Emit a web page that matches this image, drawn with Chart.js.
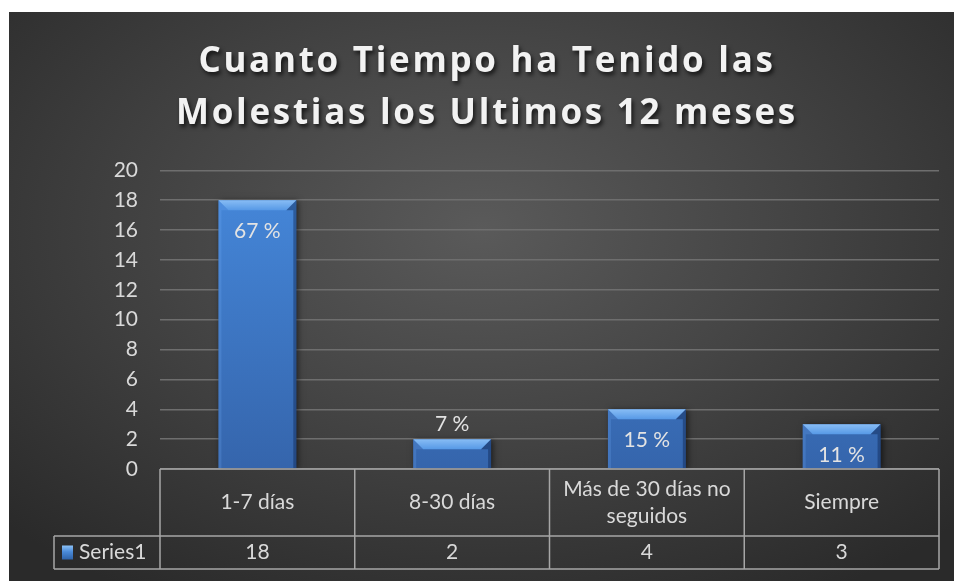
<!DOCTYPE html>
<html>
<head>
<meta charset="utf-8">
<script src="https://cdn.jsdelivr.net/npm/chart.js@4.4.1/dist/chart.umd.min.js"></script>
<style>
html, body { margin: 0; padding: 0; background: #fff; }
#wrap {
  position: absolute; left: 9px; top: 12px; width: 945px; height: 569px;
  background: radial-gradient(ellipse 70% 75% at 50% 38%, #5a5a5a 0%, #454545 45%, #2a2a2a 100%);
}
</style>
</head>
<body>
<div id="wrap"><canvas id="chart"></canvas></div>
<script>
const titleLines = ['Cuanto Tiempo ha Tenido las', 'Molestias los Ultimos 12 meses'];
const categories = ['1-7 días', '8-30 días', ['Más de 30 días no', 'seguidos'], 'Siempre'];
const series1 = [18, 2, 4, 3];
const percentLabels = ['67 %', '7 %', '15 %', '11 %'];
const seriesName = 'Series1';
const yMax = 20;
const yStep = 2;

const textColor = '#d9d9d9';
const lineColor = '#a6a6a6';
const smallFont = '21px Lato';

// bevel look on the bars + shadow
const bevelPlugin = {
  id: 'bevel',
  beforeDatasetsDraw(chart) {
    const ctx = chart.ctx;
    ctx.save();
    ctx.shadowColor = 'rgba(0,0,0,0.55)';
    ctx.shadowBlur = 6;
    ctx.shadowOffsetX = 2;
    ctx.shadowOffsetY = 1;
  },
  afterDatasetsDraw(chart) {
    const ctx = chart.ctx;
    ctx.restore();
    chart.getDatasetMeta(0).data.forEach((bar, i) => {
      const { x, y, base, width } = bar.getProps(['x', 'y', 'base', 'width'], true);
      const l = x - width / 2, r = x + width / 2, h = base - y;
      const b = Math.min(10, h / 2), s = 3;

      ctx.save();
      // top bevel
      ctx.beginPath();
      ctx.moveTo(l, y); ctx.lineTo(r, y); ctx.lineTo(r - b, y + b); ctx.lineTo(l + b, y + b);
      ctx.closePath();
      const g = ctx.createLinearGradient(0, y, 0, y + b);
      g.addColorStop(0, '#88bdf5');
      g.addColorStop(1, '#5799e6');
      ctx.fillStyle = g;
      ctx.fill();
      // left side
      ctx.beginPath();
      ctx.moveTo(l, y); ctx.lineTo(l + b, y + b); ctx.lineTo(l + s, y + b); ctx.lineTo(l + s, base); ctx.lineTo(l, base);
      ctx.closePath();
      ctx.fillStyle = 'rgba(120,180,255,0.2)';
      ctx.fill();
      // right side
      ctx.beginPath();
      ctx.moveTo(r, y); ctx.lineTo(r - b, y + b); ctx.lineTo(r - s, y + b); ctx.lineTo(r - s, base); ctx.lineTo(r, base);
      ctx.closePath();
      ctx.fillStyle = 'rgba(10,30,70,0.4)';
      ctx.fill();

      // data label
      ctx.font = smallFont;
      ctx.fillStyle = '#e3e3e3';
      ctx.textAlign = 'center';
      ctx.textBaseline = 'middle';
      const cy = h >= 40 ? y + 31 : y - 15;
      ctx.fillText(percentLabels[i], x, cy);
      ctx.restore();
    });
  }
};

// data table under the plot
const tablePlugin = {
  id: 'dataTable',
  afterDraw(chart) {
    const ctx = chart.ctx;
    const xs = chart.scales.x;
    const area = chart.chartArea;
    const n = categories.length;
    const colW = (area.right - area.left) / n;
    const top = area.bottom, mid = top + 67, bot = top + 100;
    const legendLeft = 45;

    ctx.save();
    ctx.strokeStyle = lineColor;
    ctx.lineWidth = 1.5;
    ctx.beginPath();
    ctx.moveTo(area.left, top); ctx.lineTo(area.right, top);
    ctx.moveTo(legendLeft, mid); ctx.lineTo(area.right, mid);
    ctx.moveTo(legendLeft, bot); ctx.lineTo(area.right, bot);
    ctx.moveTo(legendLeft, mid); ctx.lineTo(legendLeft, bot);
    for (let i = 0; i <= n; i++) {
      const vx = area.left + i * colW;
      ctx.moveTo(vx, top); ctx.lineTo(vx, bot);
    }
    ctx.stroke();

    ctx.font = smallFont;
    ctx.fillStyle = textColor;
    ctx.textAlign = 'center';
    ctx.textBaseline = 'middle';
    categories.forEach((c, i) => {
      const cx = xs.getPixelForValue(i);
      const lines = Array.isArray(c) ? c : [c];
      const lh = 27;
      const y0 = (top + mid) / 2 - (lines.length - 1) * lh / 2;
      lines.forEach((t, k) => ctx.fillText(t, cx, y0 + k * lh));
      ctx.fillText(String(series1[i]), cx, (mid + bot) / 2);
    });

    // legend key + series name
    const ky = (mid + bot) / 2 - 7;
    const kg = ctx.createLinearGradient(0, ky, 0, ky + 14);
    kg.addColorStop(0, '#8cc2f7');
    kg.addColorStop(0.45, '#4a8ad8');
    kg.addColorStop(1, '#2f63a8');
    ctx.fillStyle = kg;
    ctx.fillRect(53, ky, 11, 14);
    ctx.fillStyle = textColor;
    ctx.textAlign = 'left';
    ctx.fillText(seriesName, 70, (mid + bot) / 2);
    ctx.restore();
  }
};

const canvas = document.getElementById('chart');
new Chart(canvas, {
  type: 'bar',
  data: {
    labels: categories,
    datasets: [{
      label: seriesName,
      data: series1,
      backgroundColor(c) {
        const area = c.chart.chartArea;
        if (!area) return '#3d7ccc';
        const g = c.chart.ctx.createLinearGradient(0, area.top, 0, area.bottom);
        g.addColorStop(0, '#4689dc');
        g.addColorStop(1, '#3565ac');
        return g;
      },
      categoryPercentage: 1,
      barPercentage: 0.4
    }]
  },
  options: {
    responsive: true,
    maintainAspectRatio: false,
    animation: false,
    devicePixelRatio: 1,
    layout: { padding: { left: 0, right: 15, top: 0, bottom: 112 } },
    plugins: {
      legend: { display: false },
      tooltip: { enabled: false },
      title: {
        display: true,
        text: titleLines,
        color: '#f2f2f2',
        font: { family: 'Open Sans', weight: 'bold', size: 35, lineHeight: 1.49 },
        padding: { top: 24, bottom: 30 }
      }
    },
    scales: {
      x: { display: false },
      y: {
        min: 0,
        max: yMax,
        afterFit(s) { s.width = 151; },
        border: { display: false },
        grid: { color: '#6e6e6e', lineWidth: 1.5, drawTicks: false },
        ticks: {
          stepSize: yStep,
          color: textColor,
          padding: 22,
          font: { family: 'Lato', size: 21 }
        }
      }
    }
  },
  plugins: [bevelPlugin, tablePlugin, {
    id: 'titleShadow',
    afterLayout(chart) {
      const t = chart.titleBlock;
      if (t && !t._shadowWrapped) {
        const draw = t.draw.bind(t);
        t.draw = function () {
          const ctx = chart.ctx;
          ctx.save();
          ctx.translate(13, 0); // title sits a bit right of the box centre
          ctx.letterSpacing = '2.7px';
          ctx.shadowColor = 'rgba(0,0,0,0.7)';
          ctx.shadowBlur = 4;
          ctx.shadowOffsetX = 2;
          ctx.shadowOffsetY = 3;
          draw();
          ctx.restore();
        };
        t._shadowWrapped = true;
      }
    }
  }]
});
</script>
</body>
</html>
